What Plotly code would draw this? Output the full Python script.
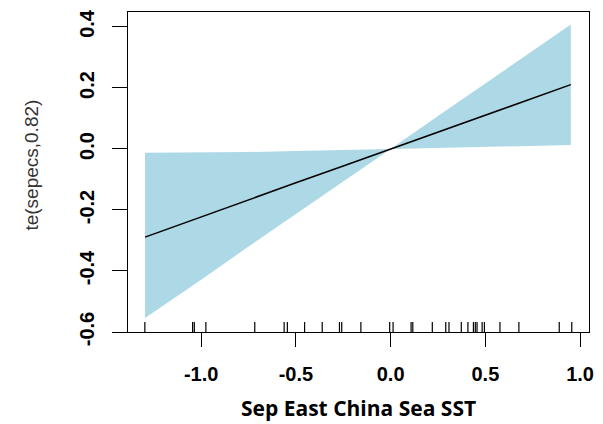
import plotly.graph_objects as go

# smooth term values
x_grid = [-1.296, -1.0, -0.75, -0.5, -0.25, 0.0, 0.25, 0.5, 0.75, 0.951]
fit    = [-0.289, -0.222, -0.167, -0.111, -0.056, 0.0, 0.056, 0.111, 0.167, 0.211]
upper  = [-0.012, -0.012, -0.010, -0.007, -0.004, 0.0, 0.108, 0.215, 0.323, 0.408]
lower  = [-0.554, -0.429, -0.320, -0.213, -0.107, 0.0, 0.004, 0.007, 0.010, 0.013]

# rug (observed SST values)
rug_x = [-1.297, -1.045, -1.036, -0.975, -0.717, -0.562, -0.545, -0.454, -0.361,
         -0.270, -0.258, -0.157, -0.005, 0.013, 0.108, 0.117, 0.220, 0.291, 0.308,
         0.373, 0.408, 0.437, 0.447, 0.456, 0.483, 0.495, 0.577, 0.677, 0.890, 0.956]

x_ticks = [-1.0, -0.5, 0.0, 0.5, 1.0]
x_labels = ["-1.0", "-0.5", "0.0", "0.5", "1.0"]
y_ticks = [-0.6, -0.4, -0.2, 0.0, 0.2, 0.4]
y_labels = ["-0.6", "-0.4", "-0.2", "0.0", "0.2", "0.4"]

x_range = [-1.386, 1.047]
y_range = [-0.6, 0.449]

W, H = 603, 424
ml, mr, mt, mb = 128, 9, 10, 92
plot_h = H - mt - mb
rug_len = 10 * (y_range[1] - y_range[0]) / plot_h

fig = go.Figure()
fig.add_trace(go.Scatter(
    x=x_grid + x_grid[::-1], y=upper + lower[::-1],
    fill="toself", fillcolor="#ADD8E6", line=dict(width=0),
    mode="lines", hoverinfo="skip"))
fig.add_trace(go.Scatter(x=x_grid, y=fit, mode="lines",
                         line=dict(color="black", width=1.5)))
rx, ry = [], []
for v in rug_x:
    rx += [v, v, None]
    ry += [y_range[0], y_range[0] + rug_len, None]
fig.add_trace(go.Scatter(x=rx, y=ry, mode="lines",
                         line=dict(color="black", width=1.2)))

tick_font = dict(family="Liberation Sans, Arial", size=20, color="black", weight="bold")
fig.update_xaxes(range=x_range, tickvals=x_ticks, ticktext=x_labels,
                 ticks="outside", ticklen=14, tickwidth=1.2, tickcolor="black",
                 showline=True, linecolor="black", linewidth=1.2, mirror=True,
                 showgrid=False, zeroline=False, tickfont=tick_font,
                 ticklabelstandoff=10)
fig.update_yaxes(range=y_range, tickvals=y_ticks, ticktext=y_labels,
                 ticks="outside", ticklen=15, tickwidth=1.2, tickcolor="black",
                 showline=True, linecolor="black", linewidth=1.2, mirror=True,
                 showgrid=False, zeroline=False, tickfont=tick_font, tickangle=-90,
                 ticklabelstandoff=10)

fig.add_annotation(text="te(sepecs,0.82)", xref="paper", yref="paper",
                   x=0, y=0.52, xanchor="center", yanchor="middle", xshift=-96,
                   textangle=-90, showarrow=False,
                   font=dict(family="Liberation Sans, Arial", size=19, color="#333333"))
fig.add_annotation(text="Sep East China Sea SST", xref="paper", yref="paper",
                   x=0.5, y=0, xanchor="center", yanchor="middle", yshift=-76,
                   showarrow=False,
                   font=dict(family="Open Sans", size=21, color="black", weight="bold"))

fig.update_layout(width=W, height=H, margin=dict(l=ml, r=mr, t=mt, b=mb),
                  plot_bgcolor="white", paper_bgcolor="white", showlegend=False)
fig.write_html("out.html")
